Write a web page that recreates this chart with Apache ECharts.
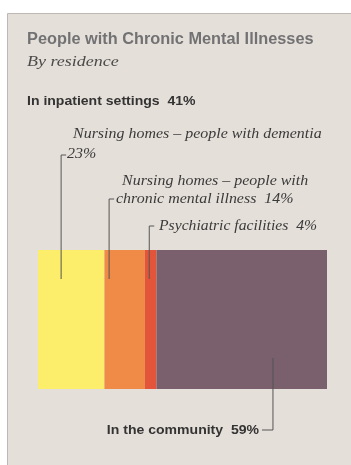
<!DOCTYPE html>
<html>
<head>
<meta charset="utf-8">
<script src="https://cdn.jsdelivr.net/npm/echarts@6/dist/echarts.min.js"></script>
<style>
html, body { margin: 0; padding: 0; background: #fff; }
#main { width: 351px; height: 465px; }
</style>
</head>
<body>
<div id="main"></div>
<script>
// residence groups, share of people with chronic mental illnesses (%)
var groups = ['dementia', 'chronic', 'psychiatric', 'community'];
var shares = [23, 14, 4, 59];
var colors = ['#fcee6b', '#ef8b47', '#e2553a', '#7a5f6d'];
var inpatientTotal = 41;

var chart = echarts.init(document.getElementById('main'));

var series = groups.map(function (g, i) {
    return {
        name: g,
        type: 'bar',
        stack: 'all',
        barWidth: '100%',
        silent: true,
        itemStyle: { color: colors[i] },
        data: [shares[i]]
    };
});

chart.setOption({
    backgroundColor: '#fff',
    animation: false,
    grid: { left: 38, right: 24, top: 250, height: 139 },
    xAxis: { type: 'value', min: 0, max: 100, show: false },
    yAxis: { type: 'category', data: ['all'], show: false },
    series: series
});

// leader lines are placed in value space so they follow the bar
function px(v) { return chart.convertToPixel({ xAxisIndex: 0 }, v); }

var serif = 'italic 14px "Liberation Serif", serif';
var bold = 'bold 13px "Liberation Sans", Arial, sans-serif';
var lineStyle = { stroke: '#555', lineWidth: 1 };

function txt(x, y, s, font, fill, sx, align) {
    return { type: 'text', x: x, y: y, scaleX: sx || 1,
             style: { text: s, font: font, fill: fill, textAlign: align || 'left', textVerticalAlign: 'middle' } };
}

var xDem = px(8), xChr = px(24.6), xPsy = px(38.5), xCom = px(81.3);

chart.setOption({
    graphic: [
        { type: 'rect', z: -10, shape: { x: 7.5, y: 13.5, width: 360, height: 470 },
          style: { fill: '#e5dfd9', stroke: '#bdb8b3', lineWidth: 1 } },
        txt(27, 40, 'People with Chronic Mental Illnesses',
            'bold 16px "Liberation Sans", Arial, sans-serif', '#727274', 1.02),
        txt(27, 62, 'By residence', 'italic 15px "Liberation Serif", serif', '#4a4a4a', 1.2),
        txt(27, 101, 'In inpatient settings  ' + inpatientTotal + '%', bold, '#333', 1.08),
        txt(73, 134, 'Nursing homes – people with dementia', serif, '#3a3a3a', 1.14),
        txt(67, 154, shares[0] + '%', serif, '#3a3a3a', 1.14),
        txt(122, 181, 'Nursing homes – people with', serif, '#3a3a3a', 1.14),
        txt(116, 199, 'chronic mental illness  ' + shares[1] + '%', serif, '#3a3a3a', 1.14),
        txt(159, 226, 'Psychiatric facilities  ' + shares[2] + '%', serif, '#3a3a3a', 1.12),
        txt(259, 430, 'In the community  ' + shares[3] + '%', bold, '#333', 1.08, 'right'),
        { type: 'polyline', z: 10, shape: { points: [[xDem + 5, 155], [xDem, 155], [xDem, 279]] }, style: lineStyle },
        { type: 'polyline', z: 10, shape: { points: [[xChr + 5, 199], [xChr, 199], [xChr, 279]] }, style: lineStyle },
        { type: 'polyline', z: 10, shape: { points: [[xPsy + 5, 226], [xPsy, 226], [xPsy, 279]] }, style: lineStyle },
        { type: 'polyline', z: 10, shape: { points: [[xCom, 358], [xCom, 430], [xCom - 11, 430]] }, style: lineStyle }
    ]
});
</script>
</body>
</html>
